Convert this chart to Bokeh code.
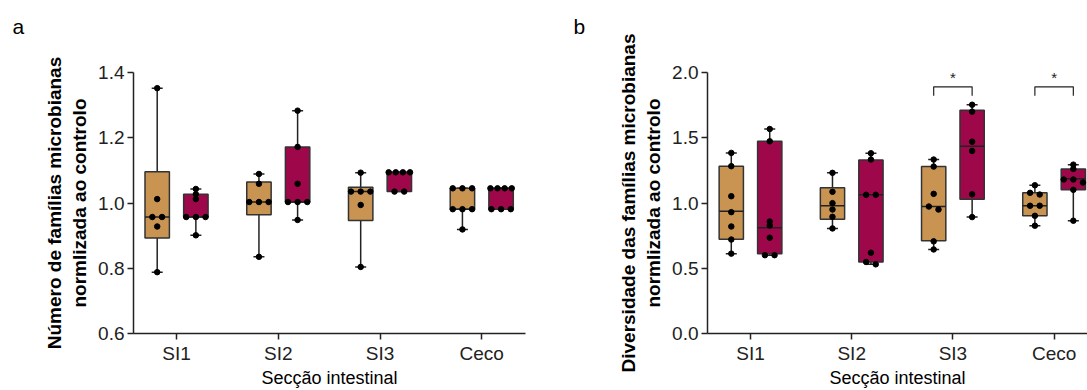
from bokeh.plotting import figure
from bokeh.layouts import row
from bokeh.models import FixedTicker, PrintfTickFormatter
from bokeh.embed import file_html
from bokeh.resources import INLINE
from bokeh.core.properties import value

# ---------------- data ----------------
categories = ["SI1", "SI2", "SI3", "Ceco"]

# panel a : Número de famílias microbianas (normalizado ao controlo)
a_tan_q1 = [0.893, 0.964, 0.946, 0.981]
a_tan_med = [0.957, 1.003, 1.035, 0.981]
a_tan_q3 = [1.096, 1.064, 1.048, 1.045]
a_tan_min = [0.788, 0.835, 0.804, 0.919]
a_tan_max = [1.352, 1.089, 1.093, 1.045]
a_tan_pts = [
    [1.352, 1.012, 0.957, 0.957, 0.928, 0.788],
    [1.089, 1.059, 1.003, 1.003, 1.003, 0.835],
    [1.093, 1.035, 1.035, 1.035, 0.994, 0.804],
    [1.045, 1.045, 1.045, 0.981, 0.981, 0.981, 0.919],
]
a_mag_q1 = [0.957, 1.003, 1.035, 0.981]
a_mag_med = [0.957, 1.003, 1.094, 1.045]
a_mag_q3 = [1.027, 1.172, 1.094, 1.045]
a_mag_min = [0.901, 0.948, 1.035, 0.981]
a_mag_max = [1.043, 1.283, 1.094, 1.045]
a_mag_pts = [
    [1.043, 1.027, 1.012, 0.957, 0.957, 0.957, 0.901],
    [1.283, 1.172, 1.059, 1.003, 1.003, 1.003, 0.948],
    [1.094, 1.094, 1.094, 1.094, 1.035, 1.035],
    [1.045, 1.045, 1.045, 1.045, 0.981, 0.981, 0.981],
]

# panel b : Diversidade das famílias microbianas (normalizado ao controlo)
b_tan_q1 = [0.723, 0.876, 0.711, 0.902]
b_tan_med = [0.937, 0.978, 0.973, 0.979]
b_tan_q3 = [1.282, 1.116, 1.279, 1.078]
b_tan_min = [0.612, 0.805, 0.644, 0.826]
b_tan_max = [1.384, 1.231, 1.333, 1.136]
b_tan_pts = [
    [1.384, 1.282, 1.052, 0.930, 0.820, 0.720, 0.612],
    [1.231, 1.086, 0.999, 0.950, 0.894, 0.805],
    [1.333, 1.279, 1.070, 0.973, 0.950, 0.706, 0.644],
    [1.136, 1.078, 1.065, 0.979, 0.979, 0.902, 0.826],
]
b_mag_q1 = [0.612, 0.548, 1.029, 1.101]
b_mag_med = [0.810, 1.063, 1.434, 1.185]
b_mag_q3 = [1.473, 1.330, 1.710, 1.261]
b_mag_min = [0.600, 0.530, 0.892, 0.864]
b_mag_max = [1.567, 1.381, 1.753, 1.294]
b_mag_pts = [
    [1.567, 1.473, 0.858, 0.828, 0.734, 0.600, 0.600],
    [1.381, 1.333, 1.063, 1.063, 0.619, 0.548, 0.530],
    [1.753, 1.700, 1.470, 1.399, 1.067, 0.892],
    [1.294, 1.261, 1.180, 1.180, 1.157, 1.101, 0.864],
]
b_sig_categories = ["SI3", "Ceco"]
b_sig_level = 1.89
b_sig_leg = 1.822
b_sig_star = 1.96

a_yticks = [0.6, 0.8, 1.0, 1.2, 1.4]
b_yticks = [0.0, 0.5, 1.0, 1.5, 2.0]

# ---------------- style ----------------
TAN = "#C99352"
MAG = "#9E074A"
EDGE = "#333333"
INK = "#222222"
FONT = "Liberation Sans"
OFF = 0.19
BOX_W = 0.24
H = 390


def spread(vals, tol, step_max, span_max):
    order = sorted(range(len(vals)), key=lambda i: -vals[i])
    clusters = []
    for i in order:
        if clusters and abs(vals[clusters[-1][-1]] - vals[i]) < tol:
            clusters[-1].append(i)
        else:
            clusters.append([i])
    offs = [0.0] * len(vals)
    for c in clusters:
        n = len(c)
        if n == 1:
            continue
        step = min(step_max, span_max / (n - 1))
        for k, i in enumerate(c):
            offs[i] = (k - (n - 1) / 2) * step
    return offs


def make_panel(letter, letter_offset, ylabel, yr, yticks, groups, width, bl, br, xr, sig=None):
    p = figure(width=width, height=H, x_range=xr, y_range=yr,
               output_backend="svg", toolbar_location=None,
               min_border_left=bl, min_border_right=br,
               min_border_top=72, min_border_bottom=57)
    p.outline_line_color = None
    p.grid.visible = False
    p.background_fill_color = "white"
    p.border_fill_color = "white"

    # panel letter as a left-aligned title (blank 2nd line lifts it up)
    p.title.text = letter + "\n\u00a0"
    p.title.align = "left"
    p.title.vertical_align = "top"
    p.title.offset = letter_offset
    p.title.standoff = 20
    p.title.text_font = FONT
    p.title.text_font_size = "21px"
    p.title.text_font_style = "normal"
    p.title.text_color = "black"

    tol = 0.0135 * (yr[1] - yr[0])
    for q1, med, q3, lo, hi, pts, color, off in groups:
        xs = [i + off for i in range(len(categories))]
        p.segment(x0=xs, y0=q3, x1=xs, y1=hi, line_color=INK, line_width=1.5)
        p.segment(x0=xs, y0=lo, x1=xs, y1=q1, line_color=INK, line_width=1.5)
        p.scatter(x=xs, y=hi, marker="dash", size=11, line_color=INK, line_width=1.5)
        p.scatter(x=xs, y=lo, marker="dash", size=11, line_color=INK, line_width=1.5)
        p.vbar(x=xs, width=BOX_W, bottom=q1, top=q3, fill_color=color,
               line_color=EDGE, line_width=1.5)
        p.segment(x0=[x - BOX_W / 2 for x in xs], y0=med,
                  x1=[x + BOX_W / 2 for x in xs], y1=med,
                  line_color=INK, line_width=1.5)
        px, py = [], []
        for x, vals in zip(xs, pts):
            offs = spread(vals, tol, 0.095, 0.21)
            px += [x + o for o in offs]
            py += list(vals)
        p.scatter(x=px, y=py, size=5.5, fill_color="black", line_color="black")

    if sig:
        cats, level, leg, star = sig
        for c in cats:
            i = categories.index(c)
            x0, x1 = i - OFF, i + OFF
            p.line(x=[x0, x0, x1, x1], y=[leg, level, level, leg],
                   line_color=INK, line_width=1.2)
            p.text(x=[i], y=[star], text=["*"], text_font=value(FONT),
                   text_font_size="15px", text_align="center",
                   text_baseline="middle", text_color=INK)

    p.xaxis.ticker = FixedTicker(ticks=list(range(len(categories))))
    p.xaxis.major_label_overrides = {i: c for i, c in enumerate(categories)}
    p.yaxis.ticker = FixedTicker(ticks=yticks)
    p.yaxis.formatter = PrintfTickFormatter(format="%.1f")
    for ax in (p.xaxis[0], p.yaxis[0]):
        ax.axis_line_color = INK
        ax.axis_line_width = 1.5
        ax.major_tick_line_color = INK
        ax.major_tick_line_width = 1.5
        ax.major_tick_out = 6
        ax.major_tick_in = 0
        ax.minor_tick_line_color = None
        ax.major_label_text_font = FONT
        ax.major_label_text_font_size = "19px"
        ax.major_label_text_color = INK
        ax.major_label_standoff = 3
        ax.axis_label_text_font = FONT
        ax.axis_label_text_color = "black"
    p.xaxis.axis_label = "Secção intestinal"
    p.xaxis.axis_label_text_font_style = "normal"
    p.xaxis.axis_label_text_font_size = "18px"
    p.xaxis.axis_label_standoff = 1
    p.yaxis.axis_label = ylabel
    p.yaxis.axis_label_text_font_style = "bold"
    p.yaxis.axis_label_text_font_size = "19px"
    p.yaxis.axis_label_standoff = 5

    return p


pa = make_panel(
    "a", -121, "Número de famílias microbianas\nnormlizada ao controlo",
    (0.6, 1.4), a_yticks,
    [(a_tan_q1, a_tan_med, a_tan_q3, a_tan_min, a_tan_max, a_tan_pts, TAN, -OFF),
     (a_mag_q1, a_mag_med, a_mag_q3, a_mag_min, a_mag_max, a_mag_pts, MAG, OFF)],
    545, 133, 20, (-0.423, 3.43))

pb = make_panel(
    "b", -134, "Diversidade das famílias microbianas\nnormlizada ao controlo",
    (0.0, 2.0), b_yticks,
    [(b_tan_q1, b_tan_med, b_tan_q3, b_tan_min, b_tan_max, b_tan_pts, TAN, -OFF),
     (b_mag_q1, b_mag_med, b_mag_q3, b_mag_min, b_mag_max, b_mag_pts, MAG, OFF)],
    542, 162, 0, (-0.425, 3.33),
    sig=(b_sig_categories, b_sig_level, b_sig_leg, b_sig_star))

layout = row(pa, pb)
open("out.html", "w").write(file_html(layout, INLINE))
